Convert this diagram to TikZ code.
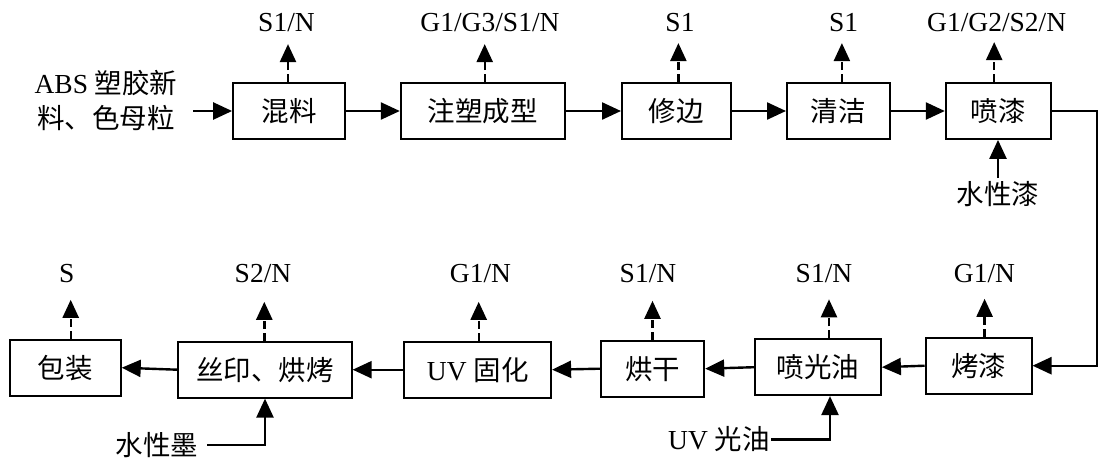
\documentclass[tikz,border=0pt]{standalone}
\usepackage{fontspec}
\setmainfont{Liberation Serif}
\newfontfamily\cjk{Noto Sans CJK SC}
\usetikzlibrary{arrows.meta}
\newcommand{\zh}[1]{{\cjk #1}}
\begin{document}
\begin{tikzpicture}[x=1pt,y=-1pt,
  every node/.style={font=\fontsize{27.5}{35}\selectfont},
  pbox/.style={draw, line width=1.8pt, minimum height=56pt, inner sep=0pt},
  flow/.style={line width=2.4pt, -{Triangle[length=19pt,width=17pt]}},
  emit/.style={line width=2.4pt, dash pattern=on 8pt off 4pt, -{Triangle[length=18pt,width=16pt]}},
  lbl/.style={inner sep=3pt}
]
\useasboundingbox (0,0) rectangle (1098,459);

% top row
\node[pbox, minimum width=112pt] (m1) at (289,111) {\zh{混料}};
\node[pbox, minimum width=164pt] (m2) at (482.7,111) {\zh{注塑成型}};
\node[pbox, minimum width=109pt] (m3) at (676.4,111) {\zh{修边}};
\node[pbox, minimum width=103pt] (m4) at (838.4,111) {\zh{清洁}};
\node[pbox, minimum width=105pt] (m5) at (998.2,111) {\zh{喷漆}};

% input
\node[lbl, inner sep=0pt, align=center] (in) at (106,100.7) {ABS \zh{塑胶新}\\\zh{料、色母粒}};
\coordinate (inS) at (193,111);
\draw[flow] (inS) -- (m1.west);

\draw[flow] (m1.east) -- (m2.west);
\draw[flow] (m2.east) -- (m3.west);
\draw[flow] (m3.east) -- (m4.west);
\draw[flow] (m4.east) -- (m5.west);

% top emissions
\node[lbl] (t1) at (286.5,23) {S1/N};
\node[lbl] (t2) at (490,23) {G1/G3/S1/N};
\node[lbl] (t3) at (680,23) {S1};
\node[lbl] (t4) at (843.6,23) {S1};
\node[lbl] (t5) at (996.7,23) {G1/G2/S2/N};
\draw[emit] ([xshift=-1pt]m1.north) -- ([xshift=-1pt,yshift=38pt]m1.north);
\draw[emit] ([xshift=2pt]m2.north) -- ([xshift=2pt,yshift=38pt]m2.north);
\draw[emit] ([xshift=2pt]m3.north) -- ([xshift=2pt,yshift=39pt]m3.north);
\draw[emit] ([xshift=3.5pt]m4.north) -- ([xshift=3.5pt,yshift=39pt]m4.north);
\draw[emit] ([xshift=-4pt]m5.north) -- ([xshift=-4pt,yshift=40pt]m5.north);

% paint input
\node[lbl] (w1) at (998,194) {\zh{水性漆}};
\draw[flow] (w1.north) -- (w1.north |- m5.south);

% bottom row
\node[pbox, minimum width=111pt] (b1) at (65.3,367.7) {\zh{包装}};
\node[pbox, minimum width=173.5pt] (b2) at (265,369.7) {\zh{丝印、烘烤}};
\node[pbox, minimum width=147pt] (b3) at (477.7,369.7) {UV \zh{固化}};
\node[pbox, minimum width=103.6pt] (b4) at (652.5,368.7) {\zh{烘干}};
\node[pbox, minimum width=126pt] (b5) at (818,367.2) {\zh{喷光油}};
\node[pbox, minimum width=106pt] (b6) at (978.6,365.7) {\zh{烤漆}};

% loop
\draw[flow] (m5.east) -- ++(45.6,0) |- (b6.east);

\draw[flow] (b6.west) -- (b5.east);
\draw[flow] (b5.west) -- (b4.east);
\draw[flow] (b4.west) -- (b3.east);
\draw[flow] (b3.west) -- (b2.east);
\draw[flow] (b2.west) -- (b1.east);

% bottom emissions
\node[lbl] (s1) at (66.7,274) {S};
\node[lbl] (s2) at (263,274) {S2/N};
\node[lbl] (s3) at (480.5,274) {G1/N};
\node[lbl] (s4) at (648,274) {S1/N};
\node[lbl] (s5) at (824,274) {S1/N};
\node[lbl] (s6) at (984.5,274) {G1/N};
\draw[emit] ([xshift=5.4pt]b1.north) -- ([xshift=5.4pt,yshift=39pt]b1.north);
\draw[emit] ([xshift=-0.7pt]b2.north) -- ([xshift=-0.7pt,yshift=39pt]b2.north);
\draw[emit] ([xshift=1pt]b3.north) -- ([xshift=1pt,yshift=39pt]b3.north);
\draw[emit] ([xshift=0pt]b4.north) -- ([xshift=0pt,yshift=39pt]b4.north);
\draw[emit] ([xshift=11pt]b5.north) -- ([xshift=11pt,yshift=39pt]b5.north);
\draw[emit] ([xshift=6pt]b6.north) -- ([xshift=6pt,yshift=38pt]b6.north);

% side inputs
\node[lbl] (w2) at (157,445) {\zh{水性墨}};
\draw[flow] ([xshift=6pt]w2.east) -| (b2.south);
\node[lbl, inner sep=1pt] (w3) at (719,439.5) {UV \zh{光油}};
\draw[flow] (w3.east) -| ([xshift=12pt]b5.south);
\end{tikzpicture}
\end{document}
